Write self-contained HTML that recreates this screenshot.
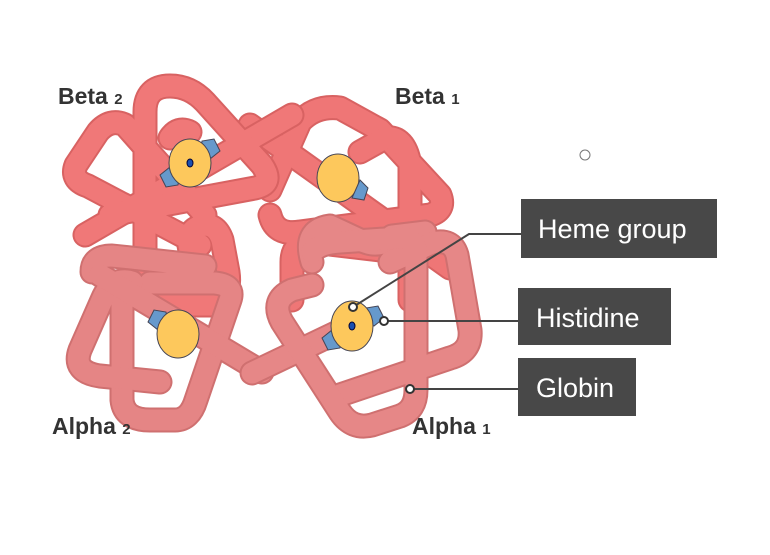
<!DOCTYPE html>
<html><head><meta charset="utf-8"><style>
body{margin:0;background:#fff;}
.lbl{font-family:"Liberation Sans",sans-serif;font-weight:bold;fill:#333;font-size:23px;}
.sub{font-size:15px;}
.box{font-family:"Liberation Sans",sans-serif;fill:#fff;font-size:27px;}
</style></head><body>
<svg width="770" height="550" viewBox="0 0 770 550" xmlns="http://www.w3.org/2000/svg">
<defs>
<g id="b1">
<path d="M270 190 L300 122 Q315 105 340 108 L380 130 L440 195 Q446 210 430 215 L300 232 Q275 236 270 215"/>
<path d="M410 300 L410 165 Q405 135 385 138 L360 152"/>
<path d="M250 125 L450 268"/>
<path d="M292 300 L292 262 Q292 242 312 242 L380 250"/>
</g>
<g id="b2">
<path d="M205 215 L125 125 Q110 118 98 132 L76 165 Q70 180 88 186 L200 245"/>
<path d="M85 235 L292 115"/>
<path d="M145 300 L145 112 Q145 86 170 86 Q190 86 205 102 L262 165 Q275 184 255 188 L110 215"/>
<path d="M160 305 L210 305 Q232 300 228 272 L222 240 Q216 222 200 226 Q185 232 190 250 L202 275"/>
<path d="M170 138 Q178 126 190 132"/>
</g>
<g id="a2">
<path d="M92 272 Q92 256 112 256 L205 266"/>
<path d="M122 300 L122 400 Q124 420 150 420 L175 420 Q190 420 196 400 L230 300 Q235 285 215 283 L150 283"/>
<path d="M160 382 L100 376 Q72 372 80 350 L102 300 Q112 276 132 282"/>
<path d="M100 275 L262 372"/>
</g>
<g id="a1">
<path d="M312 262 Q302 230 330 226 L360 240 Q380 250 392 236 L425 232"/>
<path d="M252 373 L342 330"/>
<path d="M390 262 L432 243 Q452 238 457 255 L470 330 Q472 352 450 358 L340 395"/>
<path d="M312 285 L292 290 Q270 300 282 322 L340 412 Q352 430 372 425 L400 416 Q416 410 416 390 L416 252 Q416 238 400 238 L340 242 Q320 243 312 252"/>
</g>
</defs>
<g fill="none" stroke-linecap="round" stroke-linejoin="round">
<use href="#b1" stroke="#d86262" stroke-width="25"/>
<use href="#b1" stroke="#ef7676" stroke-width="21"/>
<use href="#b2" stroke="#d86262" stroke-width="25"/>
<use href="#b2" stroke="#f07878" stroke-width="21"/>
<use href="#a2" stroke="#cf7070" stroke-width="25"/>
<use href="#a2" stroke="#e58585" stroke-width="21"/>
<use href="#a1" stroke="#cf7070" stroke-width="25"/>
<use href="#a1" stroke="#e68787" stroke-width="21"/>
</g>
<!-- hemes -->
<g stroke="#445" stroke-width="1">
<g transform="translate(190,163)"><polygon points="-30,12 -20,4 -10,10 -12,22 -24,24" fill="#6699cc"/><polygon points="30,-12 20,-4 10,-10 12,-22 24,-24" fill="#6699cc"/><ellipse rx="21" ry="24" fill="#fdc85c"/><ellipse rx="3" ry="4" fill="#1a4fb0" stroke="#003"/></g>
<g transform="translate(338,178)"><ellipse rx="21" ry="24" fill="#fdc85c"/><polygon points="22,2 30,10 26,22 14,20" fill="#6699cc"/></g>
<g transform="translate(178,334)"><polygon points="-30,-12 -20,-4 -10,-10 -12,-22 -24,-24" fill="#6699cc"/><ellipse rx="21" ry="24" fill="#fdc85c"/></g>
<g transform="translate(352,326)"><polygon points="-30,12 -20,4 -10,10 -12,22 -24,24" fill="#6699cc"/><polygon points="32,-8 22,0 12,-6 14,-18 26,-20" fill="#6699cc"/><ellipse rx="21" ry="25" fill="#fdc85c"/><ellipse rx="3" ry="4" fill="#1a4fb0" stroke="#003"/></g>
</g>
<g stroke="#444" stroke-width="2" fill="none">
<path d="M353 307 L469 234 L522 234"/>
<path d="M384 321 L519 321"/>
<path d="M410 389 L519 389"/>
</g>
<g fill="#fff" stroke="#333" stroke-width="2">
<circle cx="353" cy="307" r="4"/><circle cx="384" cy="321" r="4"/><circle cx="410" cy="389" r="4"/>
</g>
<circle cx="585" cy="155" r="5" fill="none" stroke="#777" stroke-width="1"/>
<rect x="521" y="199" width="196" height="59" fill="#484848"/>
<text class="box" x="538" y="238">Heme group</text>
<rect x="518" y="288" width="153" height="57" fill="#484848"/>
<text class="box" x="536" y="327">Histidine</text>
<rect x="518" y="358" width="118" height="58" fill="#484848"/>
<text class="box" x="536" y="397">Globin</text>
<text class="lbl" x="58" y="104">Beta <tspan class="sub">2</tspan></text>
<text class="lbl" x="395" y="104">Beta <tspan class="sub">1</tspan></text>
<text class="lbl" x="52" y="434">Alpha <tspan class="sub">2</tspan></text>
<text class="lbl" x="412" y="434">Alpha <tspan class="sub">1</tspan></text>
</svg>
</body></html>
